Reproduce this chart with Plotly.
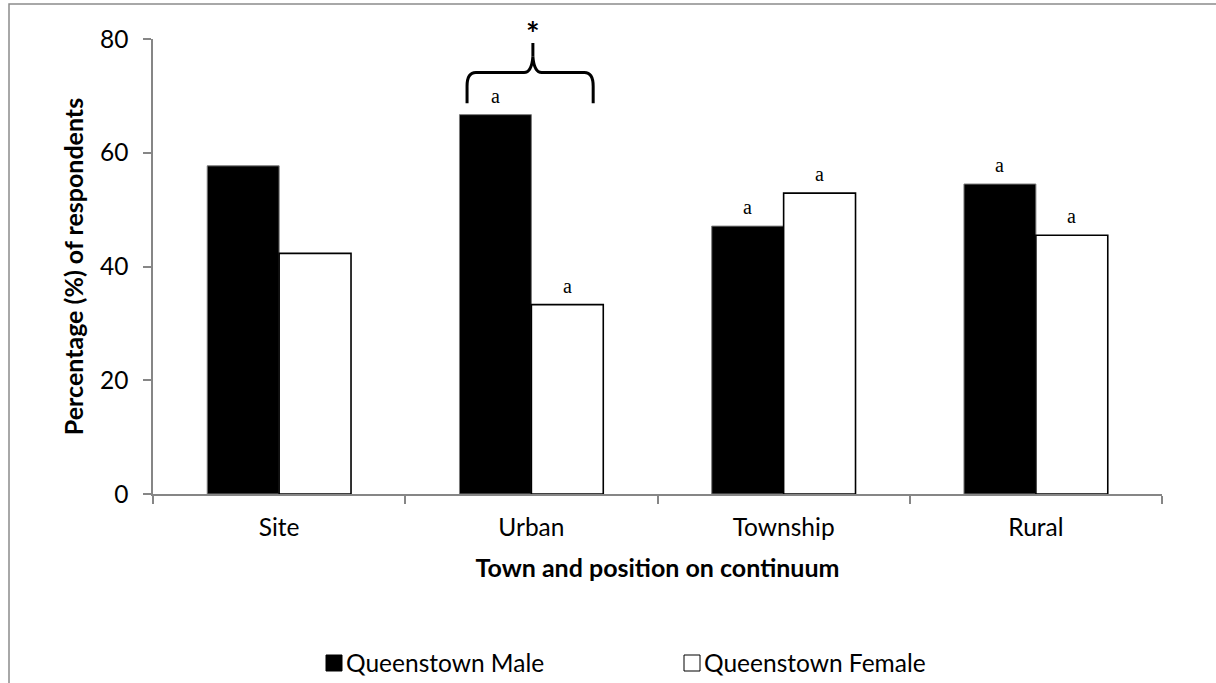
import plotly.graph_objects as go

# ---- data ----
categories = ["Site", "Urban", "Township", "Rural"]
male_pct = [57.7, 66.7, 47.1, 54.5]
female_pct = [42.3, 33.3, 52.9, 45.5]
male_letters = ["", "a", "a", "a"]
female_letters = ["", "a", "a", "a"]
series_names = ["Queenstown Male", "Queenstown Female"]
y_ticks = [0, 20, 40, 60, 80]
x_title = "Town and position on continuum"
y_title = "Percentage (%) of respondents"
sig_group = "Urban"
sig_mark = "*"

# ---- styling / geometry ----
W, H = 1216, 683
M_L, M_R, M_T, M_B = 153, 54, 39, 189
PLOT_W = W - M_L - M_R
PLOT_H = H - M_T - M_B
BARGAP = 0.43
BAR_W = (1 - BARGAP) / 2
SANS = "Lato, Calibri, Carlito, sans-serif"
SERIF = "Liberation Serif, Times New Roman, serif"
AXIS_GREY = "#868686"


def px_x(px):
    return (px - M_L) / PLOT_W


def px_y(py):
    return (H - M_B - py) / PLOT_H


fig = go.Figure()
fig.add_bar(
    x=categories, y=male_pct, name=series_names[0],
    marker=dict(color="black", line=dict(color="#7a7a7a", width=1)),
)
fig.add_bar(
    x=categories, y=female_pct, name=series_names[1],
    marker=dict(color="white", line=dict(color="black", width=1.6)),
)

annotations = []
# significance letters above each bar
for i, (m, f) in enumerate(zip(male_pct, female_pct)):
    for val, letter, side in ((m, male_letters[i], -1), (f, female_letters[i], 1)):
        if letter:
            annotations.append(dict(
                x=i + side * BAR_W / 2, y=val, xref="x", yref="y",
                text=letter, showarrow=False, yanchor="bottom", yshift=6,
                font=dict(family=SERIF, size=20, color="black"),
            ))

# curly brace over the significant group
gi = categories.index(sig_group)
top = max(male_pct[gi], female_pct[gi])
xl = gi - BAR_W + 0.03
xr = gi + BAR_W - 0.04
xm = gi + 0.006
y_end = top + 2.0
y_bend = top + 5.0
y_bar = top + 7.4
y_apex = top + 10.2
y_stem = top + 12.6


def dx(v):
    # category index -> x-domain fraction
    return (v + 0.5) / len(categories)


def dy(v):
    return v / y_ticks[-1]


brace = (
    f"M{dx(xl)},{dy(y_end)} L{dx(xl)},{dy(y_bend)} "
    f"Q{dx(xl)},{dy(y_bar)} {dx(xl + 0.035)},{dy(y_bar)} "
    f"L{dx(xm - 0.035)},{dy(y_bar)} "
    f"Q{dx(xm - 0.005)},{dy(y_bar)} {dx(xm)},{dy(y_apex)} "
    f"Q{dx(xm + 0.005)},{dy(y_bar)} {dx(xm + 0.035)},{dy(y_bar)} "
    f"L{dx(xr - 0.035)},{dy(y_bar)} "
    f"Q{dx(xr)},{dy(y_bar)} {dx(xr)},{dy(y_bend)} "
    f"L{dx(xr)},{dy(y_end)}"
)
shapes = [
    dict(type="path", path=brace, xref="x domain", yref="y domain",
         line=dict(color="black", width=3)),
    dict(type="line", xref="x domain", yref="y domain",
         x0=dx(xm), x1=dx(xm), y0=dy(y_apex), y1=dy(y_stem),
         line=dict(color="black", width=3)),
]
annotations.append(dict(
    x=dx(xm), y=dy(y_stem), xref="x domain", yref="y domain",
    text=f"<b>{sig_mark}</b>", showarrow=False, yanchor="bottom", yshift=-12,
    font=dict(family=SANS, size=32, color="black"),
))

# frame along the left and top of the chart area
frame = f"M{px_x(9)},{px_y(H)} L{px_x(9)},{px_y(4)} L{px_x(W)},{px_y(4)}"
shapes.append(dict(
    type="path", xref="paper", yref="paper", path=frame,
    line=dict(color="#8c8c8c", width=1.5), layer="below",
))

# legend keys drawn beneath the axis title
legend_items = [
    (series_names[0], 326, "black"),
    (series_names[1], 684, "white"),
]
for name, left, fill in legend_items:
    shapes.append(dict(
        type="rect", xref="paper", yref="paper",
        x0=px_x(left), x1=px_x(left + 16), y0=px_y(671), y1=px_y(655),
        fillcolor=fill, line=dict(color="black", width=1),
    ))
    annotations.append(dict(
        x=px_x(left + 18), y=px_y(662), xref="paper", yref="paper",
        text=name, showarrow=False, xanchor="left", yanchor="middle",
        font=dict(family=SANS, size=24.5, color="black"),
    ))

fig.update_layout(
    width=W, height=H,
    margin=dict(l=M_L, r=M_R, t=M_T, b=M_B, pad=0),
    barmode="group", bargap=BARGAP, bargroupgap=0,
    plot_bgcolor="white", paper_bgcolor="white",
    showlegend=False,
    shapes=shapes, annotations=annotations,
    font=dict(family=SANS, size=24, color="black"),
)
fig.update_xaxes(
    type="category", range=[-0.5, len(categories) - 0.5],
    showline=True, linecolor=AXIS_GREY, linewidth=1.5,
    ticks="outside", tickson="boundaries", ticklen=8, tickcolor=AXIS_GREY,
    tickwidth=1.5, showgrid=False, ticklabelstandoff=11,
    tickfont=dict(family=SANS, size=24.5, color="black"),
    title=dict(text=f"<b>{x_title}</b>", standoff=19,
               font=dict(family=SANS, size=25, color="black")),
)
fig.update_yaxes(
    range=[y_ticks[0], y_ticks[-1]], tickvals=y_ticks,
    showline=True, linecolor=AXIS_GREY, linewidth=1.5,
    ticks="outside", ticklen=8, tickcolor=AXIS_GREY, tickwidth=1.5,
    showgrid=False, zeroline=False, ticklabelstandoff=10,
    tickfont=dict(family=SANS, size=24.5, color="black"),
    title=dict(text=f"<b>{y_title}</b>", standoff=9,
               font=dict(family=SANS, size=25, color="black")),
)

fig.write_html("out.html")
